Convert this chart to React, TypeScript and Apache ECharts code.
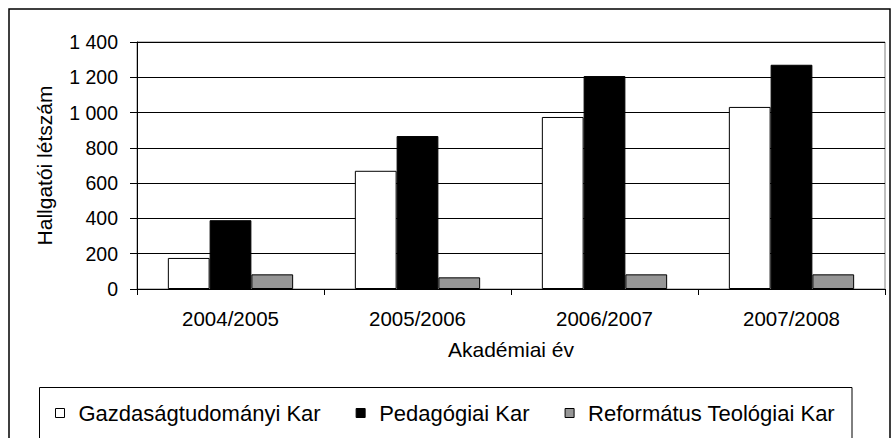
import React, { useEffect, useRef } from "react";
import * as echarts from "echarts";

const categories = ["2004/2005", "2005/2006", "2006/2007", "2007/2008"];
const seriesNames = ["Gazdaságtudományi Kar", "Pedagógiai Kar", "Református Teológiai Kar"];
const gazdasag = [176, 670, 975, 1032];
const pedagogiai = [390, 867, 1207, 1271];
const reformatus = [83, 66, 83, 83];
const yTicks = { min: 0, max: 1400, interval: 200 };
const yAxisTitle = "Hallgatói létszám";
const xAxisTitle = "Akadémiai év";

const FONT = "'Liberation Sans', Arial, sans-serif";

export default function App() {
  const ref = useRef<HTMLDivElement>(null);
  useEffect(() => {
    if (!ref.current) return;
    const chart = echarts.init(ref.current, undefined, { renderer: "svg" });
    const fill = ["#ffffff", "#000000", "#969696"];
    const data = [gazdasag, pedagogiai, reformatus];
    chart.setOption({
      animation: false,
      backgroundColor: "#ffffff",
      textStyle: { fontFamily: FONT, color: "#000" },
      grid: {
        left: 137,
        right: 6,
        top: 42,
        bottom: 149,
        show: true,
        borderColor: "#808080",
        borderWidth: 1,
        containLabel: false,
      },
      legend: {
        left: 55,
        top: 402,
        padding: 0,
        itemWidth: 9,
        itemHeight: 9,
        itemGap: 35,
        icon: "rect",
        selectedMode: false,
        textStyle: { fontFamily: FONT, fontSize: 22, color: "#000", padding: [0, 0, 0, 9] },
        itemStyle: { borderColor: "#000", borderWidth: 1 },
        data: seriesNames,
      },
      xAxis: {
        type: "category",
        data: categories,
        name: xAxisTitle,
        nameLocation: "middle",
        nameGap: 50,
        nameTextStyle: { fontFamily: FONT, fontSize: 21, color: "#000" },
        axisLine: { lineStyle: { color: "#000", width: 1 } },
        axisTick: { show: true, length: 6, lineStyle: { color: "#000" } },
        axisLabel: { fontFamily: FONT, fontSize: 20.5, color: "#000", margin: 19 },
        splitLine: { show: false },
      },
      yAxis: {
        type: "value",
        min: yTicks.min,
        max: yTicks.max,
        interval: yTicks.interval,
        name: yAxisTitle,
        nameLocation: "middle",
        nameRotate: 90,
        nameGap: 82,
        nameTextStyle: { fontFamily: FONT, fontSize: 21, color: "#000" },
        axisLine: { show: true, lineStyle: { color: "#000", width: 1 } },
        axisTick: { show: true, length: 7, lineStyle: { color: "#000" } },
        axisLabel: {
          fontFamily: FONT,
          fontSize: 19.5,
          color: "#000",
          margin: 19,
          formatter: (v: number) => String(v).replace(/\B(?=(\d{3})+(?!\d))/g, " "),
        },
        splitLine: { show: true, lineStyle: { color: "#000", width: 1 } },
      },
      series: seriesNames.map((name, i) => ({
        name,
        type: "bar",
        data: data[i],
        barGap: "0%",
        barCategoryGap: "33%",
        itemStyle: { color: fill[i], borderColor: "#000", borderWidth: 1 },
      })),
      graphic: [
        {
          type: "rect",
          shape: { x: 9, y: 9, width: 881, height: 460 },
          style: { fill: "none", stroke: "#000", lineWidth: 1.5 },
          silent: true,
          z: 100,
        },
        {
          type: "rect",
          shape: { x: 39.5, y: 387.5, width: 812.5, height: 80 },
          style: { fill: "none", stroke: "#000", lineWidth: 1 },
          silent: true,
          z: 100,
        },
      ],
    });
    return () => chart.dispose();
  }, []);
  return (
    <div
      ref={ref}
      style={{ position: "absolute", left: 0, top: 0, width: 891, height: 438 }}
    />
  );
}
